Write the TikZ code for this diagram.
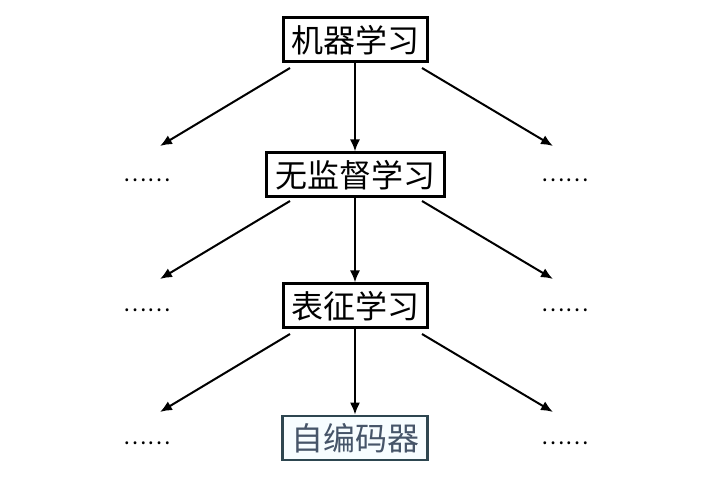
\documentclass[tikz,border=0pt]{standalone}
\usepackage{fontspec}
\newfontfamily\cjk{Noto Sans CJK SC}
\usetikzlibrary{arrows.meta}
\definecolor{lastborder}{RGB}{45,70,80}
\definecolor{lasttext}{RGB}{70,85,105}
\begin{document}
\begin{tikzpicture}[x=1pt,y=-1pt,
  box/.style={draw=black,line width=3pt,fill=white,inner sep=0pt,minimum height=44pt,font=\cjk\fontsize{32}{34}\selectfont},
  lastbox/.style={box,draw=lastborder,line width=2.6pt,fill=cyan!3,text=lasttext},
  dotsn/.style={inner sep=0pt,font=\cjk\fontsize{22}{24}\selectfont},
  arr/.style={line width=2pt,-{Latex[length=12pt,width=10pt]}}]
\useasboundingbox (0,0) rectangle (716,478);
\node[box,minimum width=144pt] (b1) at (355,40) {机器学习};
\node[box,minimum width=178pt] (b2) at (355,175) {无监督学习};
\node[box,minimum width=144pt] (b3) at (355,306) {表征学习};
\node[lastbox,minimum width=145pt] (b4) at (355,438) {自编码器};
\node[dotsn] (l1) at (147,180) {……};
\node[dotsn] (r1) at (565,180) {……};
\node[dotsn] (l2) at (147,310) {……};
\node[dotsn] (r2) at (565,310) {……};
\node[dotsn] (l3) at (147,443) {……};
\node[dotsn] (r3) at (565,443) {……};
\coordinate (s1l) at (290,68); \coordinate (s1r) at (422,68);
\coordinate (e1l) at (160,146); \coordinate (e1r) at (553,146);
\coordinate (s2l) at (290,201); \coordinate (s2r) at (422,201);
\coordinate (e2l) at (160,279); \coordinate (e2r) at (553,279);
\coordinate (s3l) at (290,334); \coordinate (s3r) at (422,334);
\coordinate (e3l) at (160,412); \coordinate (e3r) at (553,412);
\draw[arr] (s1l) -- (e1l);
\draw[arr] (b1.south) -- (b2.north);
\draw[arr] (s1r) -- (e1r);
\draw[arr] (s2l) -- (e2l);
\draw[arr] (b2.south) -- (b3.north);
\draw[arr] (s2r) -- (e2r);
\draw[arr] (s3l) -- (e3l);
\draw[arr] (b3.south) -- (b4.north);
\draw[arr] (s3r) -- (e3r);
\end{tikzpicture}
\end{document}
